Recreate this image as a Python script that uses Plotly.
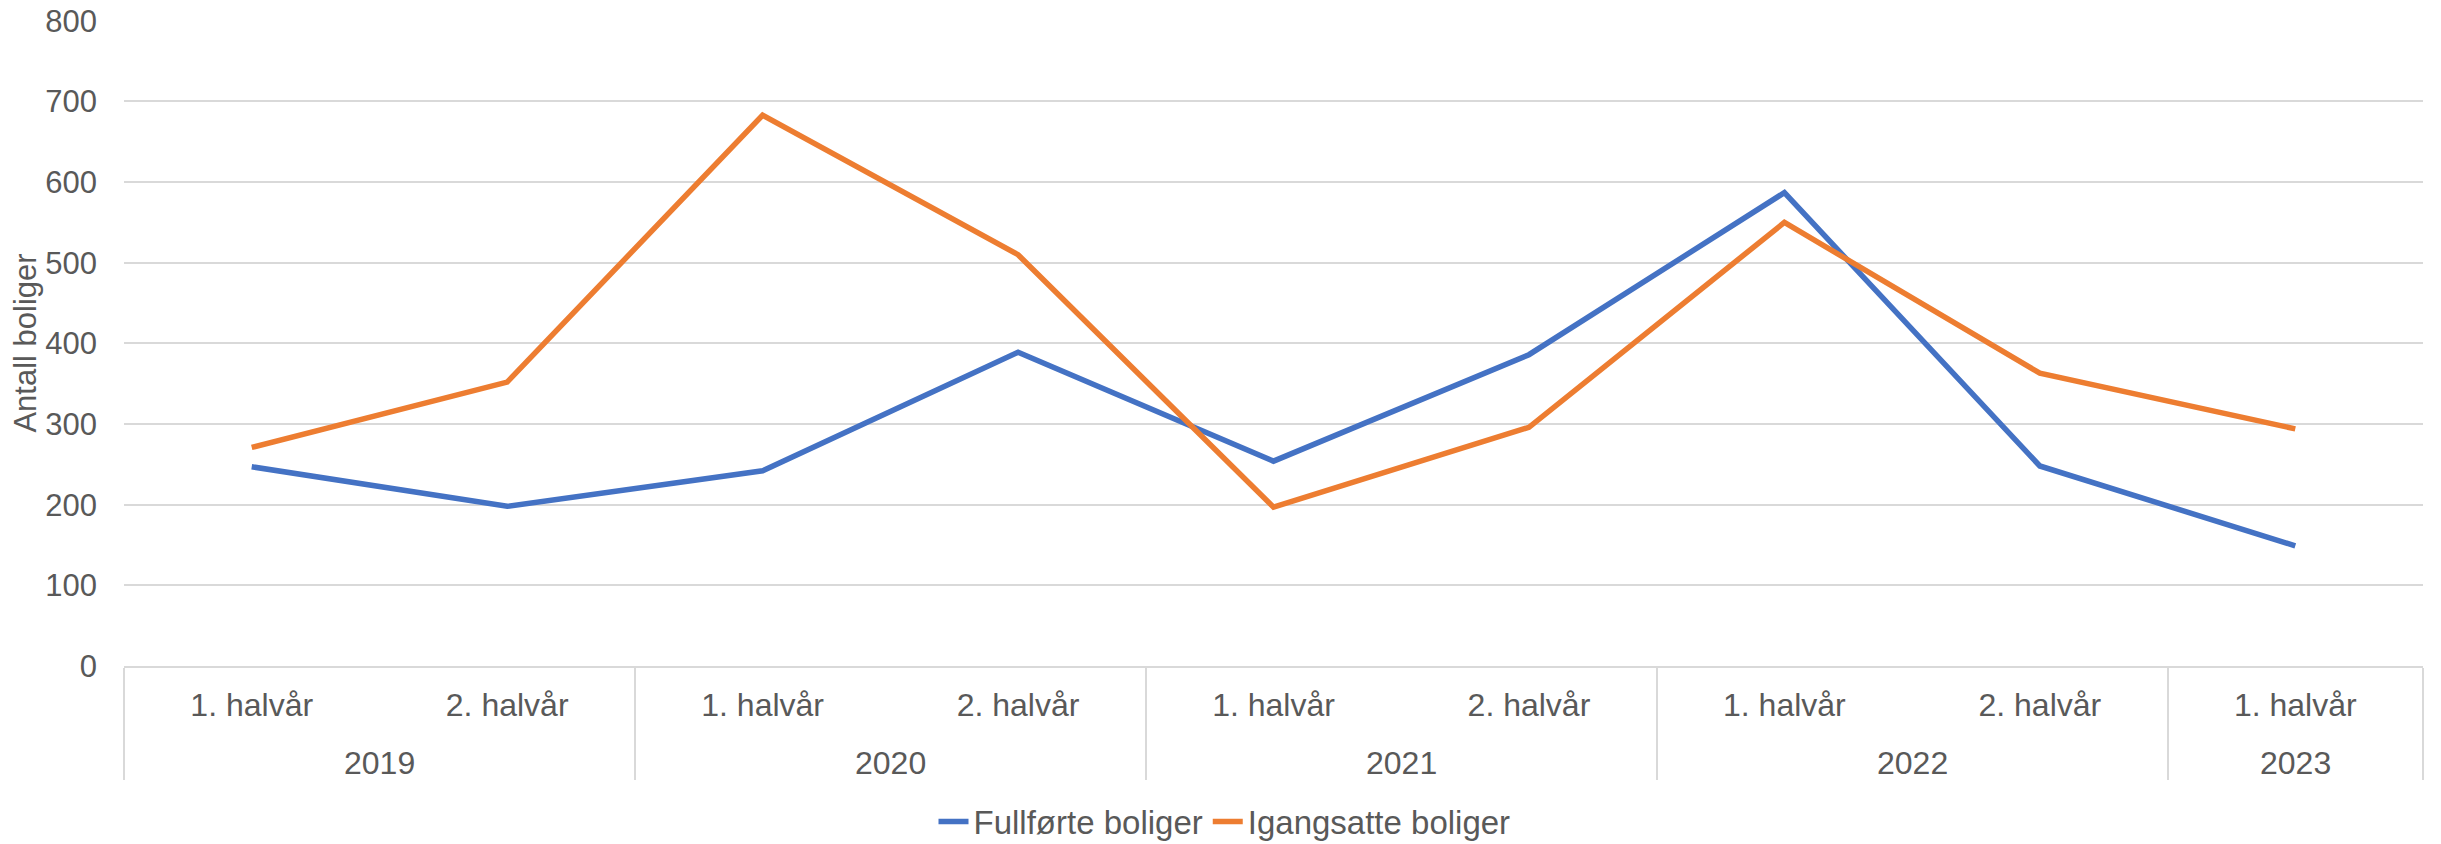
import plotly.graph_objects as go

years = ["2019", "2019", "2020", "2020", "2021", "2021", "2022", "2022", "2023"]
halves = ["1. halvår", "2. halvår", "1. halvår", "2. halvår", "1. halvår",
          "2. halvår", "1. halvår", "2. halvår", "1. halvår"]
fullforte = [247, 198, 242, 389, 254, 386, 587, 248, 149]
igangsatte = [271, 352, 683, 510, 197, 296, 550, 363, 294]

GREY_TEXT = "#595959"
GRID = "#d9d9d9"
FONT = "Liberation Sans, Arial, sans-serif"

idx = list(range(len(halves)))

# Year groups: centre position for the label, edges for the divider lines.
groups = []
for i, yr in enumerate(years):
    if groups and groups[-1][0] == yr:
        groups[-1][2] = i
    else:
        groups.append([yr, i, i])
group_centres = [(a + b) / 2 for _, a, b in groups]
group_edges = [a - 0.5 for _, a, _ in groups] + [groups[-1][2] + 0.5]

fig = go.Figure()
for name, values, color in (
    ("Fullførte boliger", fullforte, "#4472C4"),
    ("Igangsatte boliger", igangsatte, "#ED7D31"),
):
    fig.add_trace(go.Scatter(
        x=idx, y=values, name=name, mode="lines",
        line={"color": color, "width": 5.5},
    ))

# Year labels under the half-year labels.
for (yr, _, _), cx in zip(groups, group_centres):
    fig.add_annotation(x=cx, y=-0.150, xref="x", yref="paper", text=yr,
                       showarrow=False, yanchor="middle",
                       font={"size": 32, "color": GREY_TEXT})

# The page body has an 8px margin, so the figure is 8px smaller than the window.
fig.update_layout(
    width=2433, height=836,
    margin={"l": 116, "r": 18, "t": 12, "b": 178},
    paper_bgcolor="white", plot_bgcolor="white",
    font={"family": FONT, "size": 32, "color": GREY_TEXT},
    legend={"orientation": "h", "xref": "container", "yref": "container",
            "x": 0.5, "xanchor": "center", "y": 0.027, "yanchor": "middle",
            "font": {"size": 33, "color": GREY_TEXT}},
    xaxis={"range": [-0.5, 8.5], "automargin": False,
           "tickmode": "array", "tickvals": idx, "ticktext": halves,
           "showgrid": False, "zeroline": False,
           "showline": True, "linecolor": GRID, "linewidth": 2,
           "ticks": "", "ticklabelstandoff": 10,
           "tickfont": {"size": 32, "color": GREY_TEXT},
           "minor": {"tickmode": "array", "tickvals": group_edges,
                     "ticks": "outside", "ticklen": 112, "tickwidth": 2,
                     "tickcolor": GRID, "showgrid": False}},
    yaxis={"range": [0, 801], "dtick": 100, "showgrid": True, "automargin": False,
           "gridcolor": GRID, "gridwidth": 2, "zeroline": False,
           "showline": False, "ticks": "", "ticklabelstandoff": 26,
           "ticklabeloverflow": "allow",
           "tickfont": {"size": 31, "color": GREY_TEXT},
           "title": {"text": "Antall boliger", "standoff": 6,
                     "font": {"size": 31, "color": GREY_TEXT}}},
)

fig.write_html("out.html")
